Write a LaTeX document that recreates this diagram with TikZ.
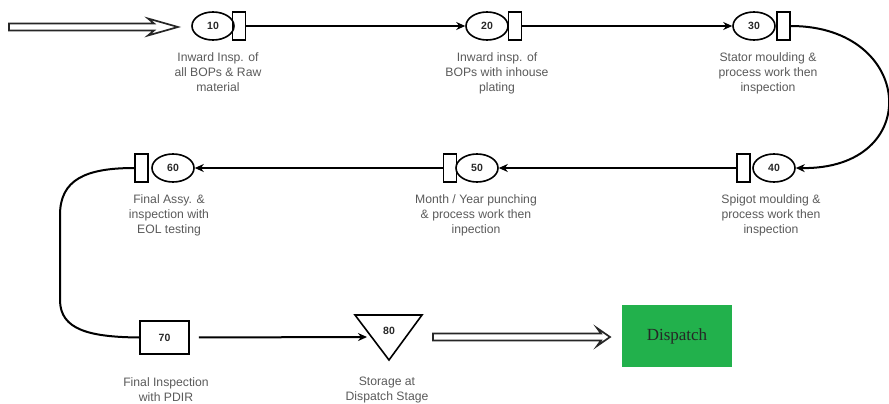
\documentclass[tikz,border=0pt]{standalone}
\usepackage{fontspec}
\setmainfont{Liberation Sans}
\newfontfamily\dispfont{Liberation Serif}
\usetikzlibrary{shapes.geometric,arrows.meta,calc}
\definecolor{lblgray}{RGB}{90,90,90}
\definecolor{dgreen}{RGB}{34,177,76}
\definecolor{numgray}{RGB}{40,40,40}
\begin{document}
\begin{tikzpicture}[x=1pt,y=-1pt,
 num/.style={text=numgray,font=\bfseries\fontsize{10.5}{12}\selectfont},
 ell/.style={ellipse,draw,line width=1.6pt,minimum width=42pt,minimum height=28pt,inner sep=0pt,num},
 rbox/.style={rectangle,draw,line width=1.6pt,minimum width=13pt,minimum height=28pt,inner sep=0pt},
 lbl/.style={align=center,anchor=north,inner sep=0pt,text=lblgray,font=\fontsize{12.2}{15}\selectfont},
 conn/.style={line width=2pt,-{Stealth[length=9pt,width=8pt]}},
 hollowline/.style={line width=1.7pt,line join=miter,draw=black!85}
]
\useasboundingbox (0,0) rectangle (889,404);
% row 1
\node[ell] (e10) at (213,26) {10};
\node[rbox] (r10) at (239,26) {};
\node[ell] (e20) at (487,26) {20};
\node[rbox] (r20) at (515,26) {};
\node[ell] (e30) at (754,26) {30};
\node[rbox] (r30) at (783.5,26) {};
% row 2
\node[rbox] (r40) at (743.5,168) {};
\node[ell] (e40) at (774,168) {40};
\node[rbox] (r50) at (450,168) {};
\node[ell] (e50) at (477,168) {50};
\node[rbox] (r60) at (141.5,168) {};
\node[ell] (e60) at (173,168) {60};
% row 3
\node[rectangle,draw,line width=1.6pt,minimum width=49pt,minimum height=33pt,inner sep=0pt,num] (b70) at (164.5,337.5) {70};
\node[num,inner sep=0pt] (t80) at (389,331) {80};
\coordinate (t80a) at (355,315);
\coordinate (t80b) at (422,315);
\coordinate (t80c) at (389,360);
\draw[line width=1.6pt,line join=miter] (t80a) -- (t80b) -- (t80c) -- cycle;
\coordinate (t80l) at (371,337);
\node[fill=dgreen,minimum width=110pt,minimum height=62pt,inner sep=0pt,font=\dispfont\fontsize{17}{20}\selectfont,text=black!85] (disp) at (677,336) {Dispatch};
% labels
\node[lbl] (l10) at (218,52) {Inward Insp. of\\all BOPs \& Raw\\material};
\node[lbl] (l20) at (497,52) {Inward insp. of\\BOPs with inhouse\\plating};
\node[lbl] (l30) at (768,52) {Stator moulding \&\\process work then\\inspection};
\node[lbl] (l40) at (771,194) {Spigot moulding \&\\process work then\\inspection};
\node[lbl] (l50) at (476,194) {Month / Year punching\\\& process work then\\inpection};
\node[lbl] (l60) at (169,194) {Final Assy. \&\\inspection with\\EOL testing};
\node[lbl] (l70) at (166,377) {Final Inspection\\with PDIR};
\node[lbl] (l80) at (387,377) {Storage at\\Dispatch Stage};
% hollow arrows
\coordinate (h1s) at (9,27);
\coordinate (h1t) at (178,27);
\draw[hollowline] ($(h1s)+(0,-3.5)$) -- ($(h1t)+(-24,-3.5)$) -- ($(h1t)+(-30,-8.5)$) -- (h1t)
  -- ($(h1t)+(-30,8.5)$) -- ($(h1t)+(-24,3.5)$) -- ($(h1s)+(0,3.5)$) -- cycle;
\coordinate (h2s) at (433,337);
\coordinate (h2t) at (610,337);
\draw[hollowline] ($(h2s)+(0,-3.5)$) -- ($(h2t)+(-9,-3.5)$) -- ($(h2t)+(-13,-9)$) -- (h2t)
  -- ($(h2t)+(-13,9)$) -- ($(h2t)+(-9,3.5)$) -- ($(h2s)+(0,3.5)$) -- cycle;
% connectors
\draw[conn] (r10.east) -- (e20.west);
\draw[conn] (r20.east) -- (e30.west);
\draw[conn] (r30.east) .. controls (915,26) and (925,170) .. (e40.east);
\draw[conn] (r40.west) -- (e50.east);
\draw[conn] (r50.west) -- (e60.east);
\draw[line width=2pt] (r60.west) .. controls (85,168) and (60,180) .. (60,215) -- (60,300) .. controls (60,330) and (90,337) .. (b70.west);
\draw[conn,shorten <=9pt,shorten >=4pt] (b70.east) -- (t80l);
\end{tikzpicture}
\end{document}
